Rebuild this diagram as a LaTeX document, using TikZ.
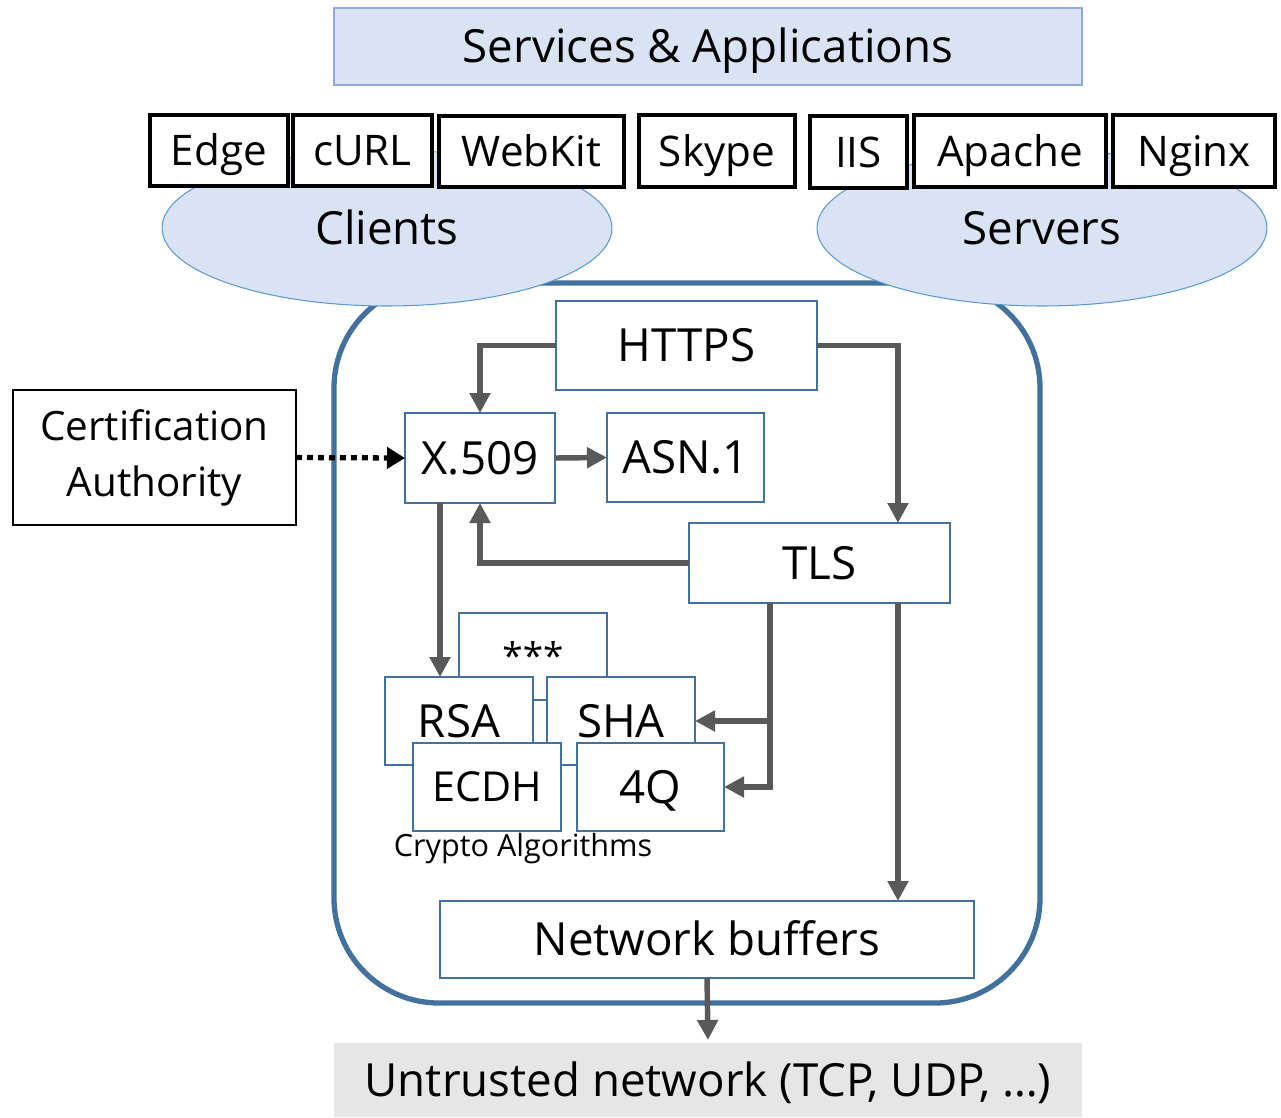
\documentclass[tikz,border=0pt]{standalone}
\usepackage{fontspec}
\setmainfont{Open Sans}
\usetikzlibrary{arrows.meta,shapes.geometric}
\definecolor{bord}{HTML}{41719C}
\definecolor{lightfill}{HTML}{DAE3F3}
\definecolor{svcbord}{HTML}{8FAADC}
\definecolor{ellbord}{HTML}{5B9BD5}
\definecolor{arrowgray}{HTML}{595959}
\definecolor{netfill}{HTML}{E7E6E6}
\begin{document}
\begin{tikzpicture}[x=0.02cm,y=-0.02cm,
  pxbox/.style n args={4}{at={({(#1+#3)/2},{(#2+#4)/2})},
    minimum width={(#3-#1)*0.02cm}, minimum height={(#4-#2)*0.02cm}},
  plain/.style={rectangle, inner sep=0pt, outer sep=0pt, text depth=0pt},
  big/.style={font=\fontsize{26}{31}\selectfont, text height=18.7pt},
  bluebox/.style={plain, big, draw=bord, line width=1.1pt, fill=white},
  blackbox/.style={plain, draw=black, line width=2pt, fill=white,
    font=\fontsize{24}{29}\selectfont, text height=17.3pt},
  cloud/.style={ellipse, draw=ellbord, line width=0.6pt, fill=lightfill, inner sep=0pt,
    text depth=0pt, minimum width=9cm, minimum height=3.12cm, big},
  conn/.style={draw=arrowgray, line width=3.1pt, -{Triangle[length=0.4cm,width=0.4cm]}},
  dotconn/.style={draw=black, line width=3pt, dash pattern=on 0.12cm off 0.1cm,
    -{Triangle[length=0.36cm,width=0.42cm]}}
]
\useasboundingbox (0,0) rectangle (1281,1117);

% core container
\node[rectangle, inner sep=0pt, outer sep=0pt, draw=bord, line width=3pt, rounded corners=2.1cm,
  pxbox={334}{283}{1040}{1003}] (core) {};

% top layer
\node[plain, big, draw=svcbord, line width=0.8pt, fill=lightfill,
  pxbox={334}{8}{1082}{85}] (svc) {Services \& Applications};

\node[cloud] (clients) at (387,228) {Clients};
\node[cloud] (servers) at (1042,228) {Servers};

\node[blackbox, pxbox={150}{115}{288}{186}] (edge) {Edge};
\node[blackbox, pxbox={293}{115}{432}{186}] (curl) {cURL};
\node[blackbox, pxbox={439}{116}{624}{187}] (webkit) {WebKit};
\node[blackbox, pxbox={639}{115}{795}{187}] (skype) {Skype};
\node[blackbox, pxbox={810}{116}{907}{188}] (iis) {IIS};
\node[blackbox, pxbox={914}{115}{1106}{187}] (apache) {Apache};
\node[blackbox, pxbox={1113}{115}{1275}{187}] (nginx) {Nginx};

% certification authority
\node[rectangle, inner sep=0pt, outer sep=0pt, draw=black, line width=0.9pt, fill=white, align=center,
  font=\fontsize{23}{32}\selectfont, pxbox={13}{390}{296}{525}] (ca) {Certification\\Authority};

% inner boxes
\node[bluebox, pxbox={556}{301}{817}{390}] (https) {HTTPS};
\node[bluebox, pxbox={405}{413}{555}{503}] (x509) {X.509};
\node[bluebox, pxbox={607}{413}{764}{502}] (asn) {ASN.1};
\node[bluebox, pxbox={689}{523}{950}{603}] (tls) {TLS};

\node[bluebox, font=\fontsize{21}{25}\selectfont, text height=15.1pt, pxbox={459}{613}{607}{700}] (stars) {***};
\node[bluebox, pxbox={385}{677}{533}{765}] (rsa) {RSA};
\node[bluebox, pxbox={547}{677}{695}{765}] (sha) {SHA};
\node[bluebox, font=\fontsize{23.5}{28}\selectfont, text height=16.9pt, pxbox={413}{743}{561}{831}] (ecdh) {ECDH};
\node[bluebox, pxbox={577}{743}{724}{831}] (q4) {4Q};
\node[plain, font=\fontsize{17.4}{20}\selectfont, text height=12.5pt] (crypto) at (523,846) {Crypto Algorithms};

\node[bluebox, pxbox={440}{901}{974}{978}] (nb) {Network buffers};
\node[plain, big, fill=netfill, pxbox={334}{1043}{1082}{1117}] (untr) {Untrusted network (TCP, UDP, \dots)};

% connectors
\draw[conn] (https.west) -| (x509.north);
\draw[conn] (https.east) -| ([xshift=1.57cm]tls.north);
\draw[conn] (x509.east) -- (asn.west);
\draw[conn] (tls.west) -| (x509.south);
\draw[conn] ([xshift=-0.8cm]x509.south) -- ([xshift=-0.8cm]x509.south |- rsa.north);
\draw[conn] ([xshift=-0.99cm]tls.south) |- (q4.east);
\draw[conn] ([xshift=-0.99cm]tls.south) |- (sha.east);
\draw[conn] ([xshift=1.57cm]tls.south) -- ([xshift=1.57cm]tls.south |- nb.north);
\draw[conn] (nb.south) -- ([yshift=0.06cm]untr.north);
\draw[dotconn] (ca.east) -- (x509.west);
\end{tikzpicture}
\end{document}
